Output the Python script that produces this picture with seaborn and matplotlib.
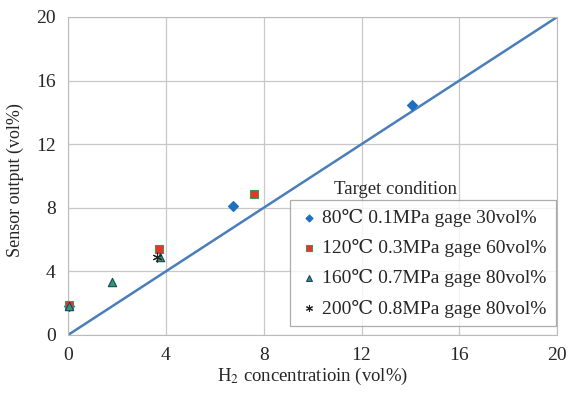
import numpy as np
import pandas as pd
import matplotlib
matplotlib.use('Agg')
import matplotlib.pyplot as plt
import seaborn as sns

# data
labels = ['80\u2103 0.1MPa gage 30vol%', '120\u2103 0.3MPa gage 60vol%',
          '160\u2103 0.7MPa gage 80vol%', '200\u2103 0.8MPa gage 80vol%']
x_80 = [0.05, 6.75, 14.05]
y_80 = [1.8, 8.1, 14.45]
x_120 = [0.05, 3.7, 7.6]
y_120 = [1.9, 5.4, 8.85]
x_160 = [0.05, 1.8, 3.75]
y_160 = [1.8, 3.3, 4.9]
x_200 = [3.65]
y_200 = [4.9]
ref_x = [0, 20]
ref_y = [0, 20]
ticks = [0, 4, 8, 12, 16, 20]

sns.set_style('white')
plt.rcParams['font.family'] = ['Liberation Serif', 'DejaVu Serif']
plt.rcParams['mathtext.fontset'] = 'stix'

fig, ax = plt.subplots(figsize=(5.68, 3.94), dpi=100)
fig.subplots_adjust(left=0.12, right=0.981, bottom=0.15, top=0.957)

sns.lineplot(x=ref_x, y=ref_y, ax=ax, color='#4a7ebb', linewidth=1.8, zorder=2)

series = [
    (x_80, y_80, 'D', '#1f6fc0', '#1f6fc0', 26),
    (x_120, y_120, 's', '#e8322a', '#3a9a4a', 36),
    (x_160, y_160, '^', '#2e9e5a', '#1f3f7a', 36),
    (x_200, y_200, (6, 2, 0), '#222222', '#222222', 40),
]
for (xs, ys, mk, fc, ec, s), lab in zip(series, labels):
    df = pd.DataFrame({'x': xs, 'y': ys})
    sns.scatterplot(data=df, x='x', y='y', ax=ax, marker=mk, color=fc,
                    edgecolor=ec, linewidth=0.8, s=s, zorder=3, label=lab,
                    clip_on=False)

ax.set_xlim(0, 20)
ax.set_ylim(0, 20)
ax.set_xticks(ticks)
ax.set_yticks(ticks)
ax.tick_params(labelsize=14, length=4, color='#bbbbbb', pad=5)
ax.grid(True, color='#c8c8c8', linewidth=0.9)
for sp in ax.spines.values():
    sp.set_color('#bbbbbb')
ax.set_xlabel('H$_2$ concentratioin (vol%)', fontsize=13.5, labelpad=1)
ax.set_ylabel('Sensor output (vol%)', fontsize=13)
ax.yaxis.set_label_coords(-0.09, 0.487)

leg = ax.legend(loc='lower right', bbox_to_anchor=(0.997, 0.027), fontsize=14,
                frameon=True, fancybox=False, edgecolor='#999999',
                handletextpad=0.2, borderpad=0.45, labelspacing=0.62,
                handlelength=1.0, markerscale=0.7, borderaxespad=0)
leg.get_frame().set_linewidth(0.9)
ax.text(0.67, 0.432, 'Target condition', transform=ax.transAxes,
        ha='center', va='bottom', fontsize=13.5)

fig.savefig('out.png', dpi=100)
